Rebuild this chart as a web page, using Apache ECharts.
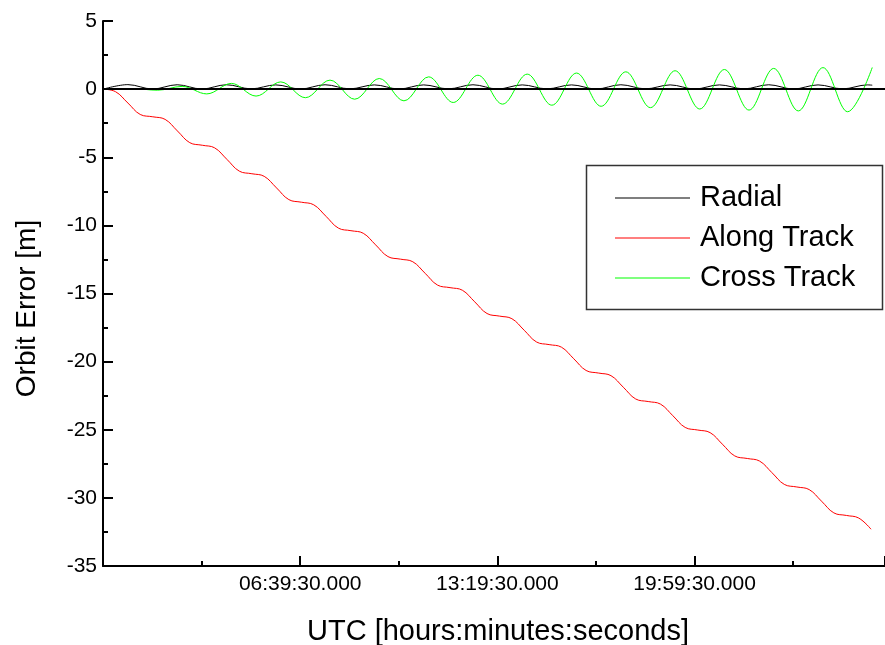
<!DOCTYPE html>
<html>
<head>
<meta charset="utf-8">
<script src="https://cdn.jsdelivr.net/npm/echarts@6/dist/echarts.min.js"></script>
<style>
html,body{margin:0;padding:0;background:#fff;}
#chart{width:885px;height:645px;}
</style>
</head>
<body>
<div id="chart"></div>
<script>
// time in seconds from 00:00:00 UTC
const seriesNames = ['Radial', 'Along Track', 'Cross Track'];
const yTicks = { min: -35, max: 5, step: 5 };

const radialTime = [0,3000,6000,9000,12000,15000,18000,21000,24000,27000,30000,33000,36000,39000,42000,45000,48000,51000,54000,57000,60000,63000,66000,69000,72000,75000,78000,81000,84000,87000,90000,93000,93600];
const radialValues = [0,0.33,0.01,0.32,0.01,0.32,0.02,0.31,0.01,0.32,0.02,0.31,0.01,0.31,0.02,0.32,0.01,0.31,0.02,0.31,0.01,0.32,0.02,0.31,0.01,0.31,0.02,0.32,0.01,0.31,0.02,0.31,0.29];

const alongTime = [0,1500,3000,4500,
  6030,7530,9030,10530,
  12060,13560,15060,16560,
  18090,19590,21090,22590,
  24120,25620,27120,28620,
  30150,31650,33150,34650,
  36180,37680,39180,40680,
  42210,43710,45210,46710,
  48240,49740,51240,52740,
  54270,55770,57270,58770,
  60300,61800,63300,64800,
  66330,67830,69330,70830,
  72360,73860,75360,76860,
  78390,79890,81390,82890,
  84420,85920,87420,88920,
  90450,91950,93450];
const alongValues = [0,-0.19,-1.02,-1.86,
  -2.03,-2.22,-3.07,-3.93,
  -4.12,-4.31,-5.16,-6.02,
  -6.21,-6.4,-7.25,-8.11,
  -8.3,-8.49,-9.34,-10.2,
  -10.39,-10.58,-11.43,-12.29,
  -12.48,-12.67,-13.52,-14.38,
  -14.57,-14.76,-15.61,-16.47,
  -16.66,-16.85,-17.7,-18.56,
  -18.75,-18.94,-19.79,-20.65,
  -20.84,-21.03,-21.88,-22.74,
  -22.93,-23.12,-23.97,-24.83,
  -25.02,-25.21,-26.06,-26.92,
  -27.11,-27.3,-28.15,-29.01,
  -29.2,-29.39,-30.24,-31.1,
  -31.29,-31.48,-32.3];

const crossTime = [0,600,3600,6600,9600,12600,15600,18600,21600,24600,27600,30600,33600,36600,39600,42600,45600,48600,51600,54600,57600,60600,63600,66600,69600,72600,75600,78600,81600,84600,87600,90600,93600];
const crossValues = [0,-0.01,0.04,-0.08,0.2,-0.35,0.42,-0.51,0.53,-0.63,0.66,-0.74,0.78,-0.86,0.9,-0.98,1.02,-1.1,1.1,-1.18,1.18,-1.26,1.27,-1.36,1.35,-1.46,1.44,-1.54,1.52,-1.6,1.58,-1.66,1.59];

const xAxisMin = -30;      // ticks at 06:39:30, 13:19:30, 19:59:30
const xAxisMax = 95150;
const xTickStep = 24000;

function zip(t, v) { return t.map((x, i) => [x, v[i]]); }
function pad(n) { return (n < 10 ? '0' : '') + n; }
function fmtTime(v) {
  if (v <= 0 || Math.abs(((v - xAxisMin) % xTickStep)) > 1e-6) return '';
  const h = Math.floor(v / 3600), m = Math.floor((v % 3600) / 60), s = Math.round(v % 60);
  return pad(h) + ':' + pad(m) + ':' + pad(s) + '.000';
}

const FONT = '"Liberation Sans", Arial, sans-serif';
const chart = echarts.init(document.getElementById('chart'), null, { renderer: 'canvas' });
chart.setOption({
  animation: false,
  backgroundColor: '#ffffff',
  grid: { left: 103, top: 21, right: 0, bottom: 79, containLabel: false, outerBoundsMode: 'none' },
  xAxis: {
    type: 'value', min: xAxisMin, max: xAxisMax, interval: xTickStep,
    name: 'UTC [hours:minutes:seconds]', nameLocation: 'middle', nameGap: 51,
    nameTextStyle: { fontFamily: FONT, fontSize: 29, color: '#000', padding: [0, 0, 0, 8] },
    axisLine: { show: true, onZero: false, lineStyle: { color: '#000', width: 2 } },
    axisTick: { show: true, inside: true, length: 10, lineStyle: { color: '#000', width: 2 } },
    minorTick: { show: true, splitNumber: 2, length: 5, lineStyle: { color: '#000', width: 2 } },
    axisLabel: { formatter: fmtTime, fontFamily: FONT, fontSize: 21, color: '#000', margin: 8, showMaxLabel: false },
    splitLine: { show: false }, minorSplitLine: { show: false }
  },
  yAxis: {
    type: 'value', min: yTicks.min, max: yTicks.max, interval: yTicks.step,
    name: 'Orbit Error [m]', nameLocation: 'middle', nameGap: 62, nameRotate: 90,
    nameTextStyle: { fontFamily: FONT, fontSize: 28, color: '#000', padding: [0, 30, 0, 0] },
    axisLine: { show: true, onZero: false, lineStyle: { color: '#000', width: 2 } },
    axisTick: { show: true, inside: true, length: 10, lineStyle: { color: '#000', width: 2 } },
    minorTick: { show: true, splitNumber: 2, length: 5, lineStyle: { color: '#000', width: 2 } },
    axisLabel: { fontFamily: FONT, fontSize: 21, color: '#000', margin: 6 },
    splitLine: { show: false }, minorSplitLine: { show: false }
  },
  legend: {
    orient: 'vertical', left: 615, top: 183,
    icon: 'rect', itemWidth: 75, itemHeight: 1, itemGap: 10,
    padding: 0,
    textStyle: { fontFamily: FONT, fontSize: 29, color: '#000', lineHeight: 30, padding: [0, 0, 0, 5] },
    data: seriesNames
  },
  graphic: [{
    type: 'rect', left: 584, top: 163, z: 100,
    shape: { width: 296, height: 144 },
    style: { fill: 'none', stroke: '#333', lineWidth: 1.5 }
  }],
  series: [
    {
      name: seriesNames[0], type: 'line', data: zip(radialTime, radialValues),
      smooth: 0.36, symbol: 'none', showSymbol: false,
      lineStyle: { color: '#000', width: 1 }, itemStyle: { color: '#000' },
      markLine: {
        silent: true, symbol: ['none', 'none'], label: { show: false },
        lineStyle: { color: '#000', width: 2, type: 'solid' },
        data: [{ yAxis: 0 }]
      }
    },
    {
      name: seriesNames[1], type: 'line', data: zip(alongTime, alongValues),
      smooth: 0.4, symbol: 'none', showSymbol: false,
      lineStyle: { color: '#ff0000', width: 1 }, itemStyle: { color: '#ff0000' }
    },
    {
      name: seriesNames[2], type: 'line', data: zip(crossTime, crossValues),
      smooth: 0.36, symbol: 'none', showSymbol: false,
      lineStyle: { color: '#00ff00', width: 1 }, itemStyle: { color: '#00ff00' }
    }
  ]
});
</script>
</body>
</html>
